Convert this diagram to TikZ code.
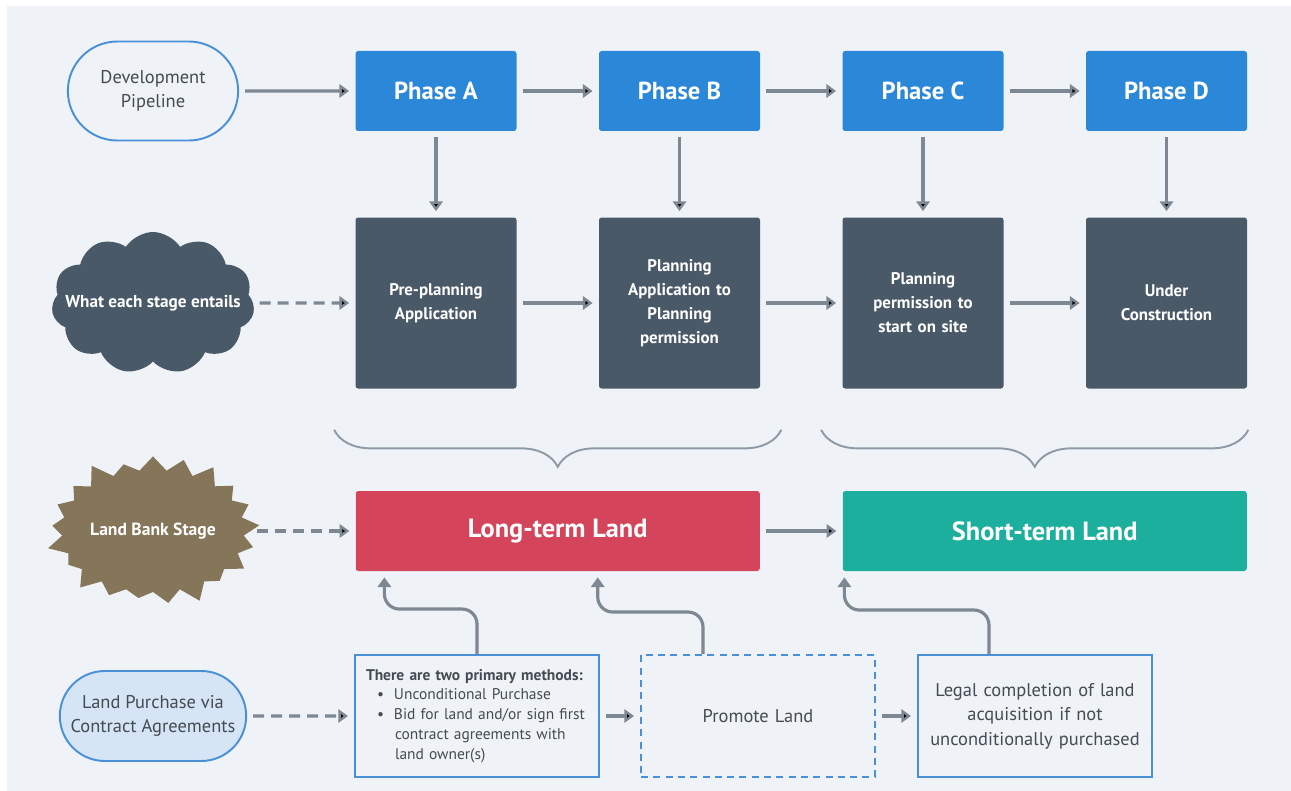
\documentclass[tikz,border=0pt]{standalone}
\usepackage{fontspec}
\setmainfont{PT Sans}
\usepackage{tikz}
\usetikzlibrary{shapes.misc,shapes.symbols,arrows.meta,positioning,calc,decorations.pathreplacing}
\definecolor{bgcol}{HTML}{EFF3F7}
\definecolor{phaseblue}{HTML}{2B88D8}
\definecolor{slate}{HTML}{4A5968}
\definecolor{ltred}{HTML}{D4445A}
\definecolor{stteal}{HTML}{1CAF9E}
\definecolor{burstbrown}{HTML}{857559}
\definecolor{lineblue}{HTML}{4A90D9}
\definecolor{lpfill}{HTML}{D5E5F5}
\definecolor{arrowgrey}{HTML}{7D8893}
\definecolor{bracegrey}{HTML}{8E9AA6}
\definecolor{txtgrey}{HTML}{454B52}
\tikzset{
    pipe/.style={
           rounded rectangle,
           draw=lineblue, line width=1.1pt,
           minimum width=3.64cm,
           minimum height=1.98cm,
           align=center, text=txtgrey,
           font=\fontsize{10.5}{13.6}\selectfont
           },
    phase/.style={
           rectangle, rounded corners=1.5pt,
           fill=phaseblue, text=white,
           minimum width=3.22cm,
           minimum height=1.6cm,
           font=\fontsize{14}{16}\selectfont\bfseries
           },
    stage/.style={
           rectangle, rounded corners=1.5pt,
           fill=slate, text=white,
           minimum width=3.22cm,
           minimum height=3.42cm,
           text width=2.8cm, align=center,
           font=\fontsize{9.6}{13.6}\selectfont\bfseries
           },
    landbox/.style={
           rectangle, rounded corners=1.5pt,
           text=white,
           minimum width=8.08cm,
           minimum height=1.6cm,
           font=\fontsize{15}{17}\selectfont\bfseries
           },
    infobox/.style={
           rectangle,
           draw=lineblue, line width=1.1pt,
           minimum width=4.68cm,
           minimum height=2.44cm,
           text width=4.3cm, align=center, text=txtgrey,
           font=\fontsize{10.5}{13.9}\selectfont
           },
    flow/.style={
           ->, draw=arrowgrey, line width=1.8pt,
           shorten >=0.12cm, shorten <=0.12cm
           },
    dflow/.style={
           flow, dash pattern=on 0.22cm off 0.14cm
           },
    brace/.style={
           decorate, decoration={brace, amplitude=0.74cm},
           draw=bracegrey, line width=1.1pt
           }
}

\begin{document}
\begin{tikzpicture}[>={Triangle[length=5.5pt,width=7.5pt]}, node distance=4.87cm, on grid, auto]
   \fill[bgcol] (0.14,-0.12) rectangle (25.82,-15.82);
   \useasboundingbox (0,0) rectangle (25.82,-15.82);
   % top row
   \node[pipe]  (dp) at (3.06,-1.82)       {Development\\Pipeline};
   \node[phase] (pA) [right=5.66cm of dp] {Phase A};
   \node[phase] (pB) [right=of pA]        {Phase B};
   \node[phase] (pC) [right=of pB]        {Phase C};
   \node[phase] (pD) [right=of pC]        {Phase D};
   % stages
   \node[cloud, cloud puffs=11, cloud puff arc=115, fill=slate,
         minimum width=4.06cm, minimum height=2.84cm, inner sep=0pt,
         label={[text=white, font=\fontsize{9.8}{12}\selectfont\bfseries]center:What each stage entails}]
         (cl) [below=4.24cm of dp] {};
   \node[stage] (dA) [below=4.24cm of pA] {Pre-planning\\Application};
   \node[stage] (dB) [below=4.24cm of pB] {Planning\\Application to\\Planning\\permission};
   \node[stage] (dC) [below=4.24cm of pC] {Planning\\permission to\\start on site};
   \node[stage] (dD) [below=4.24cm of pD] {Under\\Construction};
   % land bank
   \node[starburst, starburst points=21, starburst point height=0.38cm, fill=burstbrown,
         minimum width=4.4cm, minimum height=3.2cm, inner sep=0pt,
         label={[text=white, font=\fontsize{10}{12}\selectfont\bfseries]center:Land Bank Stage}]
         (sb) [below=4.56cm of cl] {};
   \coordinate (ltc) at ($(dA)!0.5!(dB)$);
   \coordinate (stc) at ($(dC)!0.5!(dD)$);
   \node[landbox, fill=ltred]  (lt) at (ltc |- sb) {Long-term Land};
   \node[landbox, fill=stteal] (st) at (stc |- sb) {Short-term Land};
   % purchase
   \node[pipe, fill=lpfill, minimum width=3.72cm, minimum height=1.8cm]
         (lp) [below=3.7cm of sb] {Land Purchase via\\Contract Agreements};
   \node[infobox, minimum width=4.88cm, text width=4.44cm, inner sep=0.22cm, align=left,
         font=\fontsize{8.8}{11.3}\selectfont]
         (mt) [right=6.48cm of lp]
         {\textbf{There are two primary methods:}\\
          \hspace*{0.22cm}\textbullet\hspace*{0.2cm}Unconditional Purchase\\
          \hspace*{0.22cm}\textbullet\hspace*{0.2cm}Bid for land and/or sign first\\
          \hspace*{0.58cm}contract agreements with\\
          \hspace*{0.58cm}land owner(s)};
   \node[infobox, dashed, dash pattern=on 4pt off 3pt] (pr) [right=5.62cm of mt] {Promote Land};
   \node[infobox] (lg) [right=5.54cm of pr] {Legal completion of land\\acquisition if not\\unconditionally purchased};
   % braces
   \draw[brace] ([shift={(0.42,-0.82)}]dB.south east) -- ([shift={(-0.42,-0.82)}]dA.south west);
   \draw[brace] ([shift={(0.02,-0.82)}]dD.south east) -- ([shift={(-0.42,-0.82)}]dC.south west);
   \path[flow]
    (dp) edge (pA)
    (pA) edge (pB)
    (pB) edge (pC)
    (pC) edge (pD)
    (pA) edge (dA)
    (pB) edge (dB)
    (pC) edge (dC)
    (pD) edge (dD)
    (dA) edge (dB)
    (dB) edge (dC)
    (dC) edge (dD)
    (lt) edge (st)
    (mt) edge (pr)
    (pr) edge (lg);
   \path[dflow]
    (cl) edge (dA)
    (sb) edge (lt)
    (lp) edge (mt);
   \draw[flow, shorten <=0pt, rounded corners=0.3cm]
    (mt.north) -- ++(0,0.9) -| ([xshift=0.58cm]lt.south west);
   \draw[flow, shorten <=0pt, rounded corners=0.3cm]
    ([xshift=-1.1cm]pr.north) -- ++(0,0.84) -| ([xshift=0.8cm]lt.south);
   \draw[flow, shorten <=0pt, rounded corners=0.3cm]
    ([xshift=-0.92cm]lg.north) -- ++(0,0.88) -| ([xshift=0.04cm]st.south west);
\end{tikzpicture}
\end{document}
